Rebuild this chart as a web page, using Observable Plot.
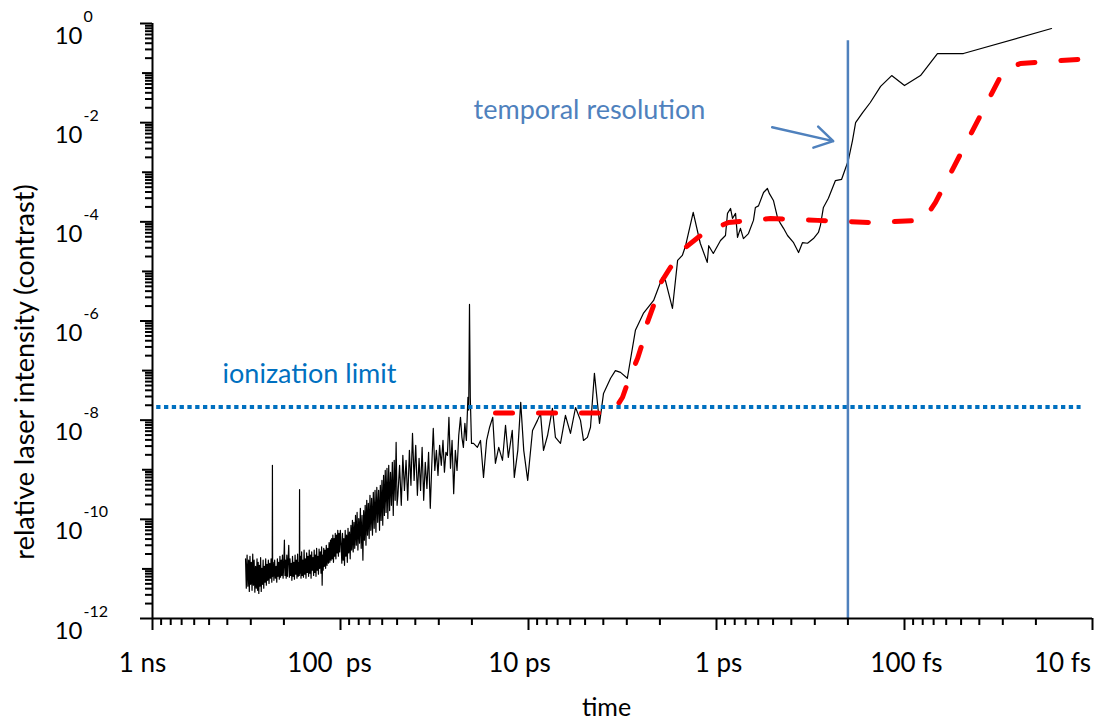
<!DOCTYPE html>
<html>
<head>
<meta charset="utf-8">
<script src="https://cdn.jsdelivr.net/npm/d3@7"></script>
<script src="https://cdn.jsdelivr.net/npm/@observablehq/plot@0.6"></script>
<style>
  html, body { margin: 0; padding: 0; background: #fff; }
  #chart svg { display: block; }
</style>
</head>
<body>
<div id="chart"></div>
<script>
// ---- measured contrast trace (time before the main pulse in ps, relative intensity) ----
const blackTime = [
  320, 317, 314, 311, 308, 305.5, 303, 300.5, 298, 295.5, 293, 290.5, 288, 285.5, 283, 280.5, 278, 276, 274, 272,
  270, 268, 266, 264, 262, 260, 258, 256, 254, 252, 250, 248, 246, 244, 242, 240, 238, 236, 234, 232,
  230.8, 230.2, 229.6, 228, 226, 224, 222, 220, 218.3, 216.6, 215, 213.3, 211.6, 210, 208.4, 206.8, 205.2, 203.6, 202, 200.4,
  198.8, 197.4, 196, 194.5, 193, 191.5, 190, 188.5, 187, 185.6, 184.2, 182.8, 181.4, 180, 178.6, 177.2, 175.8, 174.4, 173, 171.7,
  170.4, 169.1, 167.8, 166.5, 165.6, 165.1, 164.6, 163.4, 162.2, 161, 159.8, 158.6, 157.4, 156.2, 155, 153.8, 152.6, 151.4, 150.2, 149,
  147.8, 146.7, 145.6, 144.5, 143.4, 142.3, 141.2, 140.1, 139, 138, 137, 136, 135, 134, 133, 132, 131, 130, 129, 128,
  127, 126, 125.2, 124.4, 123.6, 122.8, 122, 121, 120, 119, 118, 117, 116, 115, 114, 113, 112.2, 111.4, 110.6, 109.8,
  109, 108.2, 107.4, 106.6, 105.8, 105, 104.2, 103.4, 102.6, 101.8, 101, 100.2,
  99.2, 98.4, 97.6, 96.8, 96, 95.2, 94.4, 93.6, 92.8, 92, 91.2, 90.4, 89.6, 88.8, 88, 87.2, 86.4, 85.6, 84.8, 84,
  83.2, 82.4, 81.6, 80.8, 80, 79.2, 78.4, 77.6, 76.8, 76, 75.3, 74.6, 73.9, 73.2, 72.5, 71.8, 71.1, 70.4, 69.7, 69,
  68.3, 67.6, 66.9, 66.2, 65.5, 64.8, 64.1, 63.4, 62.7, 62, 61.4, 60.8, 60.2, 59.6, 59, 58.4, 57.8, 57.2, 56.6, 56,
  55.4, 54.8, 54.2, 53.6, 53, 52.4, 51.8, 51.2, 50.6, 50,
  49.5, 48.5, 47.5, 46.6, 45.7, 44.8, 43.9, 43, 42.2, 41.4, 40.6, 39.8, 39, 38.2, 37.5, 36.8, 36.1, 35.4, 34.7, 34, 33.3,
  32.7, 32.1, 31.5, 30.9, 30.3, 29.7, 29.1, 28.5, 28, 27.5, 27, 26.5, 26, 25.5, 25, 24.5, 24, 23.5, 23,
  22.6, 22.2, 21.8, 21.4, 21, 20.8, 20.6, 20.4, 20.1,
  19.6, 18.7, 18.0, 17.35, 16.7, 16.1, 15.5, 15.0, 14.4, 13.75, 13.25, 12.8, 12.2, 11.9, 11.4, 11.0, 10.6, 10.1,
  9.52, 8.96, 8.63, 8.32, 7.92, 7.46, 7.19, 6.76, 6.36, 5.98, 5.62, 5.29, 5.10, 4.86, 4.68, 4.46, 4.19, 3.99,
  3.66, 3.45, 3.24, 2.98, 2.70, 2.45, 2.16, 1.94, 1.87, 1.715, 1.61, 1.52, 1.46, 1.33, 1.22, 1.12, 1.10, 1.04,
  0.952, 0.896, 0.874, 0.842, 0.822, 0.792, 0.773, 0.746, 0.719, 0.676, 0.636, 0.621, 0.598, 0.562, 0.536, 0.523,
  0.498, 0.474, 0.457, 0.440, 0.419, 0.389, 0.366, 0.349, 0.328, 0.305, 0.287, 0.280, 0.270, 0.254, 0.233, 0.216,
  0.199, 0.189, 0.182, 0.167, 0.152, 0.134, 0.117, 0.1, 0.0822, 0.0668, 0.0486, 0.01652
];
const blackContrast = [
  1.6e-11, 4.1e-12, 1.9e-11, 4.5e-12, 1.5e-11, 3.5e-12, 1.8e-11, 4.9e-12, 1.36e-11, 3.7e-12, 2.0e-11, 4.7e-12, 1.5e-11, 3.4e-12, 1.13e-11, 4.1e-12, 1.6e-11, 3.7e-12, 1.36e-11, 3.2e-12,
  1.18e-11, 4.5e-12, 1.7e-11, 3.5e-12, 1.03e-11, 4.9e-12, 1.5e-11, 4.1e-12, 1.13e-11, 5.4e-12, 1.6e-11, 4.7e-12, 1.24e-11, 5.9e-12, 1.5e-11, 5.1e-12, 1.3e-11, 6.5e-12, 1.6e-11, 5.4e-12,
  1.03e-11, 1.23e-9, 7.1e-12, 1.36e-11, 5.9e-12, 1.5e-11, 6.5e-12, 1.13e-11, 5.4e-12, 1.6e-11, 7.1e-12, 1.36e-11, 6.2e-12, 1.8e-11, 6.8e-12, 1.5e-11, 7.4e-12, 1.9e-11, 6.5e-12, 1.18e-11,
  3.8e-11, 7.4e-12, 1.5e-11, 6.5e-12, 1.9e-11, 7.1e-12, 1.5e-11, 3.0e-11, 6.8e-12, 1.6e-11, 7.4e-12, 1.3e-11, 5.9e-12, 1.8e-11, 7.1e-12, 1.36e-11, 6.2e-12, 1.9e-11, 7.8e-12, 1.5e-11,
  6.5e-12, 2.0e-11, 7.1e-12, 1.36e-11, 7.4e-12, 4.0e-10, 8.2e-12, 1.8e-11, 6.5e-12, 2.2e-11, 7.4e-12, 1.5e-11, 6.8e-12, 2.4e-11, 7.8e-12, 1.6e-11, 6.5e-12, 2.1e-11, 8.5e-12, 1.8e-11,
  7.1e-12, 2.4e-11, 8.2e-12, 1.9e-11, 6.5e-12, 2.2e-11, 9.4e-12, 1.7e-11, 7.4e-12, 2.4e-11, 8.5e-12, 1.9e-11, 7.1e-12, 2.6e-11, 9.4e-12, 1.8e-11, 7.8e-12, 2.5e-11, 1.03e-11, 2.2e-11,
  8.2e-12, 2.8e-11, 4.7e-12, 1.9e-11, 9.4e-12, 2.6e-11, 1.13e-11, 2.4e-11, 1.03e-11, 3.0e-11, 1.18e-11, 2.6e-11, 1.3e-11, 3.4e-11, 1.36e-11, 3.8e-11, 1.5e-11, 4.1e-11, 1.6e-11, 4.8e-11,
  1.36e-11, 4.1e-11, 1.8e-11, 5.2e-11, 1.6e-11, 4.8e-11, 2.1e-11, 6.0e-11, 1.8e-11, 5.2e-11, 2.2e-11, 6.0e-11,
  3.0e-11, 1.3e-11, 5.2e-11, 1.5e-11, 4.1e-11, 1.18e-11, 6.0e-11, 1.8e-11, 4.8e-11, 1.36e-11, 6.6e-11, 2.1e-11, 5.5e-11, 1.6e-11, 7.6e-11, 2.4e-11, 9.5e-11, 2.2e-11, 8.7e-11, 2.6e-11,
  1.2e-10, 3.0e-11, 1.38e-10, 2.4e-11, 1.04e-10, 3.3e-11, 1.67e-10, 2.6e-11, 1.2e-10, 1.5e-11, 1.5e-10, 3.8e-11, 1.92e-10, 3.0e-11, 2.42e-10, 4.8e-11, 2.1e-10, 4.1e-11, 3.05e-10, 6.0e-11,
  2.65e-10, 4.8e-11, 3.5e-10, 6.6e-11, 3.84e-10, 5.5e-11, 4.4e-10, 8.7e-11, 3.84e-10, 6.0e-11, 4.85e-10, 9.5e-11, 6.1e-10, 7.6e-11, 7.7e-10, 1.2e-10, 9.7e-10, 1.38e-10, 1.07e-9, 1.04e-10,
  1.23e-9, 1.5e-10, 8.9e-10, 1.92e-10, 1.41e-9, 1.2e-10, 1.55e-9, 2.42e-10, 3.56e-9, 1.92e-10,
  3.05e-10, 1.23e-9, 1.92e-10, 1.95e-9, 3.84e-10, 1.55e-9, 2.42e-10, 2.46e-9, 4.85e-10, 5.4e-9, 6.1e-10, 3.1e-9, 3.05e-10, 1.7e-9, 3.84e-10, 2.83e-9, 2.42e-10, 1.41e-9, 4.2e-10, 2.24e-9, 1.67e-10,
  1.23e-9, 6.8e-9, 9.7e-10, 2.46e-9, 7.7e-10, 3.1e-9, 1.23e-9, 3.9e-9, 8.9e-10, 2.24e-9, 1.95e-9, 1.14e-8, 1.07e-9, 3.9e-9, 3.3e-10, 2.46e-9, 9.7e-10, 4.9e-9, 1.14e-8,
  4.5e-9, 2.83e-9, 8.6e-9, 3.9e-9, 2.9e-8, 1.6e-8, 2.16e-6, 2.9e-8, 3.4e-9,
  3.4e-9, 2.83e-9, 3.9e-9, 7.0e-10, 3.9e-9, 7.2e-9, 1.14e-8, 1.35e-9, 2.83e-9, 1.55e-9, 7.9e-9, 1.78e-9, 6.2e-9, 7.0e-10, 2.46e-9, 2.3e-8, 2.46e-9, 6.1e-10,
  6.2e-9, 9.9e-9, 1.37e-8, 2.46e-9, 4.9e-9, 1.73e-8, 4.5e-9, 3.4e-9, 1.25e-8, 5.4e-9, 1.8e-8, 9.9e-9, 3.9e-9, 4.5e-9, 7.2e-9, 8.8e-8, 8.6e-9, 3.46e-8,
  7.0e-8, 1.0e-7, 9.2e-8, 7.0e-8, 6.5e-7, 1.42e-6, 2.6e-6, 7.6e-6, 6.6e-6, 1.79e-6, 1.67e-5, 2.1e-5, 3.3e-5, 1.55e-4, 3.7e-5, 1.52e-5, 3.3e-5, 2.3e-5,
  4.2e-5, 5.3e-5, 1.48e-4, 1.86e-4, 1.17e-4, 1.48e-4, 4.85e-5, 7.4e-5, 4.6e-5, 5.8e-5, 1.07e-4, 1.95e-4, 2.1e-4, 3.9e-4, 4.7e-4, 3.7e-4,
  2.7e-4, 1.23e-4, 9.3e-5, 7.4e-5, 5.3e-5, 3.8e-5, 2.4e-5, 3.8e-5, 3.7e-5, 4.6e-5, 6.1e-5, 8.5e-5, 1.95e-4, 3.0e-4, 6.8e-4, 7.2e-4,
  1.73e-3, 4.4e-3, 1.0e-2, 1.6e-2, 2.55e-2, 5.4e-2, 8.9e-2, 5.6e-2, 8.9e-2, 0.248, 0.248, 0.793
];

// ---- red dashed guide curve ----
const redTime = [14.98, 3.57, 3.16, 2.94, 2.63, 2.47, 2.33, 2.16, 1.99, 1.76, 1.46, 1.18, 0.8635, 0.516, 0.290, 0.152, 0.0792, 0.0684, 0.0297, 0.0242, 0.01026];
const redContrast = [1.4e-8, 1.4e-8, 2.9e-8, 6.3e-8, 1.76e-7, 3.7e-7, 9.4e-7, 2.06e-6, 5.7e-6, 1.2e-5, 3.05e-5, 5.8e-5, 9.7e-5, 1.17e-4, 1.07e-4, 9.7e-5, 1.07e-4, 2.46e-4, 0.113, 0.156, 0.197];

// ---- reference lines and annotations ----
const ionizationLimit = 1.85e-8;
const ionizationFrom = 950, ionizationTo = 0.0115;
const resolutionTime = 0.2, resolutionTop = 0.45;
const ionizationLabel = {text: "ionization limit", x: 424, y: 5.5e-8};
const resolutionLabel = {text: "temporal resolution", x: 19.6, y: 1.16e-2};
const resolutionArrow = [{x1: 0.5056, y1: 8.1e-3, x2: 0.2394, y2: 4.24e-3}];

// ---- axes ----
const xTickValues = [1000, 100, 10, 1, 0.1, 0.01];
const xTickLabels = ["1 ns", "100  ps", "10 ps", "1 ps", "100 fs", "10 fs"];
const xTickLabelShift = [-10, -11, -9, 2, 2, -30];
const yTickValues = [1e-12, 1e-10, 1e-8, 1e-6, 1e-4, 1e-2, 1];
const yTickExponents = ["-12", "-10", "-8", "-6", "-4", "-2", "0"];
const xTitle = "time";
const yTitle = "relative laser intensity (contrast)";

const xMinor = [];
for (let e = -2; e <= 2; e++) for (let k = 2; k <= 9; k++) xMinor.push(k * Math.pow(10, e));
const yMinor = [];
for (let e = -12; e <= -1; e++) for (let k = 2; k <= 9; k++) yMinor.push(k * Math.pow(10, e));
const yOdd = [1e-11, 1e-9, 1e-7, 1e-5, 1e-3, 1e-1];

const black = blackTime.map((t, i) => ({t, c: blackContrast[i]}));
const red = redTime.map((t, i) => ({t, c: redContrast[i]}));

const FONT = "Lato, 'Open Sans', sans-serif";

const chart = Plot.plot({
  width: 1116,
  height: 724,
  marginLeft: 152,
  marginRight: 24,
  marginTop: 23,
  marginBottom: 106,
  x: {type: "log", domain: [1000, 0.01]},
  y: {type: "log", domain: [1e-12, 1]},
  style: {fontFamily: FONT, background: "#fff", color: "#000", overflow: "visible"},
  marks: [
    // data
    Plot.line(black, {x: "t", y: "c", stroke: "#000", strokeWidth: 1.2}),
    Plot.line(red, {x: "t", y: "c", stroke: "#FF0000", strokeWidth: 5, strokeDasharray: "17,26", strokeLinecap: "round"}),
    Plot.ruleY([ionizationLimit], {x1: ionizationFrom, x2: ionizationTo, stroke: "#0070C0", strokeWidth: 4, strokeDasharray: "4.3,3.5"}),
    Plot.ruleX([resolutionTime], {y1: 1e-12, y2: resolutionTop, stroke: "#4F81BD", strokeWidth: 2.5}),
    Plot.arrow(resolutionArrow, {x1: "x1", y1: "y1", x2: "x2", y2: "y2", stroke: "#4F81BD", strokeWidth: 2.5, headLength: 17, headAngle: 62}),
    Plot.text([ionizationLabel], {x: "x", y: "y", text: "text", textAnchor: "start", lineAnchor: "bottom", fill: "#0070C0", fontSize: 27}),
    Plot.text([resolutionLabel], {x: "x", y: "y", text: "text", textAnchor: "start", lineAnchor: "bottom", fill: "#4F81BD", fontSize: 27}),
    // axis lines
    Plot.ruleX([1000], {y1: 1e-12, y2: 1, stroke: "#000", strokeWidth: 2}),
    Plot.ruleY([1e-12], {x1: 1000, x2: 0.01, stroke: "#000", strokeWidth: 2}),
    // ticks
    Plot.axisX({ticks: xTickValues, anchor: "bottom", tickSize: 12, tickFormat: () => "", label: null, stroke: "#000", strokeWidth: 2}),
    Plot.axisX({ticks: xMinor, anchor: "bottom", tickSize: 7, tickFormat: () => "", label: null, stroke: "#000", strokeWidth: 2}),
    Plot.axisY({ticks: yTickValues, anchor: "left", tickSize: 12, tickFormat: () => "", label: null, stroke: "#000", strokeWidth: 2}),
    Plot.axisY({ticks: yOdd, anchor: "left", tickSize: 10, tickFormat: () => "", label: null, stroke: "#000", strokeWidth: 2}),
    Plot.axisY({ticks: yMinor, anchor: "left", tickSize: 7, tickFormat: () => "", label: null, stroke: "#000", strokeWidth: 2}),
    // tick labels
    ...xTickValues.map((v, i) => Plot.text([v], {x: d => d, text: () => xTickLabels[i], frameAnchor: "bottom", dx: xTickLabelShift[i], dy: 53, lineAnchor: "bottom", fontSize: 26, fill: "#000"})),
    Plot.text(yTickValues, {y: d => d, text: () => "10", frameAnchor: "left", dx: -70, dy: 20, textAnchor: "end", lineAnchor: "bottom", fontSize: 24, fill: "#000"}),
    Plot.text(yTickValues, {y: d => d, text: (d, i) => yTickExponents[i], frameAnchor: "left", dx: -69, dy: -2, textAnchor: "start", lineAnchor: "bottom", fontSize: 16, fill: "#000"}),
    // axis titles
    Plot.text([yTitle], {text: d => d, frameAnchor: "left", textAnchor: "middle", rotate: -90, dx: -127, dy: 51, fontSize: 27, fill: "#000"}),
    Plot.text([xTitle], {text: d => d, frameAnchor: "bottom", textAnchor: "middle", dx: -16, dy: 97, lineAnchor: "bottom", fontSize: 25, fill: "#000"})
  ]
});
document.getElementById("chart").appendChild(chart);
</script>
</body>
</html>
